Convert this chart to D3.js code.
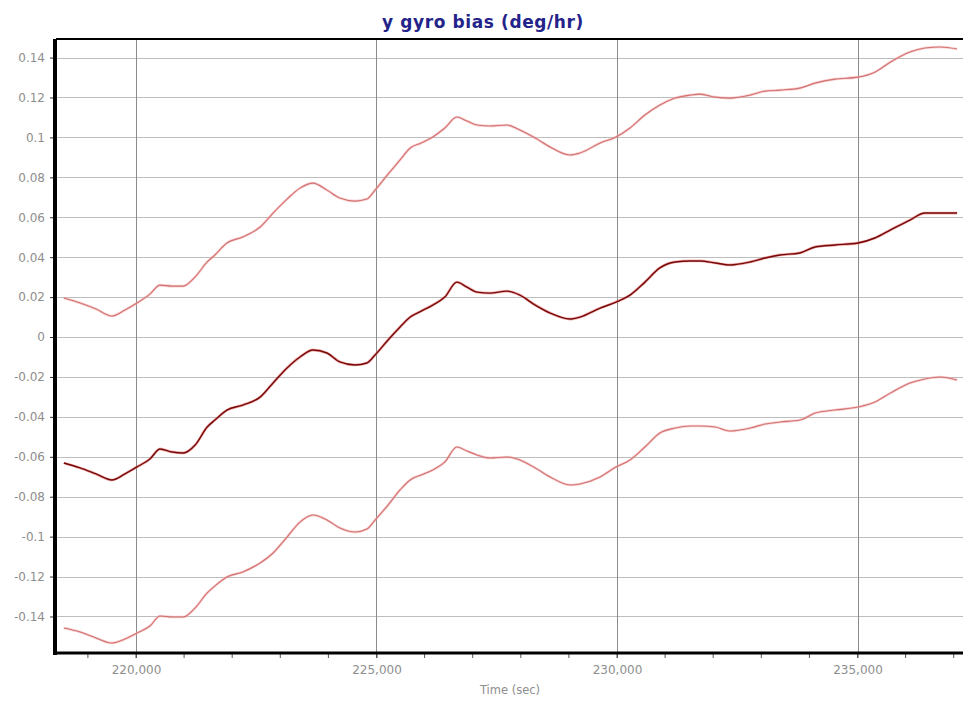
<!DOCTYPE html>
<html>
<head>
<meta charset="utf-8">
<script src="https://cdn.jsdelivr.net/npm/d3@7"></script>
<style>
  html, body { margin: 0; padding: 0; background: #fff; }
  svg { display: block; }
</style>
</head>
<body>
<svg id="chart" width="963" height="704"></svg>
<script>
// ---- data ----
const chartTitle = "y gyro bias (deg/hr)";
const xAxisTitle = "Time (sec)";

const timeSec = [218500, 218840, 219170, 219500, 219770, 220020, 220290, 220500, 220750, 220980,
  221230, 221480, 221640, 221890, 222220, 222580, 222850, 223140, 223410, 223680,
  223970, 224240, 224550, 224800, 224970, 225240, 225490, 225700, 225930, 226170,
  226420, 226670, 226880, 227090, 227360, 227710, 227980, 228300, 228610, 229020,
  229230, 229650, 229980, 230270, 230580, 230890, 231210, 231520, 231730, 232040,
  232350, 232770, 233080, 233390, 233800, 234120, 234530, 235010, 235360, 235680,
  236090, 236400, 236720, 237070];

const upperBound = [0.0195, 0.0170, 0.0140, 0.0105, 0.0135, 0.0170, 0.0215, 0.0260, 0.0255, 0.0255,
  0.0301, 0.0376, 0.0411, 0.0471, 0.0501, 0.0551, 0.0621, 0.0691, 0.0746, 0.0771,
  0.0736, 0.0696, 0.0681, 0.0691, 0.0736, 0.0816, 0.0887, 0.0947, 0.0972, 0.1002,
  0.1047, 0.1102, 0.1082, 0.1062, 0.1057, 0.1062, 0.1037, 0.0997, 0.0952, 0.0912,
  0.0922, 0.0972, 0.1002, 0.1047, 0.1112, 0.1162, 0.1197, 0.1212, 0.1217, 0.1202,
  0.1197, 0.1212, 0.1232, 0.1237, 0.1247, 0.1272, 0.1292, 0.1302, 0.1327, 0.1377,
  0.1428, 0.1448, 0.1453, 0.1443];

const biasEstimate = [-0.0631, -0.0656, -0.0686, -0.0716, -0.0686, -0.0651, -0.0611, -0.0561, -0.0576, -0.0581,
  -0.0541, -0.0451, -0.0416, -0.0366, -0.0341, -0.0301, -0.0230, -0.0155, -0.0100, -0.0065,
  -0.0080, -0.0125, -0.0140, -0.0130, -0.0090, -0.0015, 0.0050, 0.0100, 0.0130, 0.0160,
  0.0200, 0.0275, 0.0250, 0.0225, 0.0220, 0.0230, 0.0210, 0.0160, 0.0120, 0.0090,
  0.0100, 0.0145, 0.0175, 0.0210, 0.0275, 0.0346, 0.0376, 0.0381, 0.0381, 0.0371,
  0.0361, 0.0376, 0.0396, 0.0411, 0.0421, 0.0451, 0.0461, 0.0471, 0.0496, 0.0536,
  0.0586, 0.0621, 0.0621, 0.0621];

const lowerBound = [-0.1458, -0.1478, -0.1508, -0.1533, -0.1513, -0.1483, -0.1448, -0.1398, -0.1403, -0.1403,
  -0.1357, -0.1282, -0.1247, -0.1202, -0.1177, -0.1132, -0.1082, -0.1002, -0.0927, -0.0892,
  -0.0917, -0.0957, -0.0977, -0.0962, -0.0917, -0.0842, -0.0766, -0.0716, -0.0691, -0.0666,
  -0.0626, -0.0551, -0.0571, -0.0591, -0.0606, -0.0601, -0.0616, -0.0656, -0.0701, -0.0741,
  -0.0736, -0.0701, -0.0651, -0.0616, -0.0551, -0.0481, -0.0456, -0.0446, -0.0446, -0.0451,
  -0.0471, -0.0456, -0.0436, -0.0426, -0.0416, -0.0381, -0.0366, -0.0351, -0.0326, -0.0281,
  -0.0230, -0.0210, -0.0200, -0.0215];

const xTickValues = [220000, 225000, 230000, 235000];
const yTickValues = [-0.14, -0.12, -0.1, -0.08, -0.06, -0.04, -0.02, 0, 0.02, 0.04, 0.06, 0.08, 0.1, 0.12, 0.14];

// ---- layout ----
const plot = { left: 56, top: 39, right: 963, bottom: 653 };

const svg = d3.select("#chart");

const x = d3.scaleLinear().domain([218337, 237193]).range([plot.left, plot.right]);
const y = d3.scaleLinear().domain([-0.1583, 0.1493]).range([plot.bottom, plot.top]);

svg.append("defs").append("clipPath").attr("id", "clip")
  .append("rect").attr("x", plot.left).attr("y", plot.top)
  .attr("width", plot.right - plot.left).attr("height", plot.bottom - plot.top);

// horizontal grid
svg.append("g").selectAll("line").data(yTickValues).join("line")
  .attr("x1", plot.left).attr("x2", plot.right)
  .attr("y1", d => Math.round(y(d)) + 0.5).attr("y2", d => Math.round(y(d)) + 0.5)
  .attr("stroke", "#bdbdbd").attr("stroke-width", 1.2);

// vertical grid
svg.append("g").selectAll("line").data(xTickValues).join("line")
  .attr("x1", d => Math.round(x(d)) + 0.5).attr("x2", d => Math.round(x(d)) + 0.5)
  .attr("y1", plot.top).attr("y2", plot.bottom)
  .attr("stroke", "#8c8c8c").attr("stroke-width", 1);

// series
const lineGen = d3.line()
  .x((d, i) => x(timeSec[i]))
  .y(d => y(d))
  .curve(d3.curveMonotoneX);

const g = svg.append("g").attr("clip-path", "url(#clip)");
function drawSeries(values, haloColor, haloW, coreColor, coreW) {
  g.append("path").datum(values).attr("d", lineGen)
    .attr("fill", "none").attr("stroke", haloColor).attr("stroke-width", haloW).attr("opacity", 0.55);
  g.append("path").datum(values).attr("d", lineGen)
    .attr("fill", "none").attr("stroke", coreColor).attr("stroke-width", coreW);
}
drawSeries(upperBound, "#f4a8a8", 2.6, "#d27272", 1.1);
drawSeries(lowerBound, "#f4a8a8", 2.6, "#d27272", 1.1);
drawSeries(biasEstimate, "#e46a6a", 2.8, "#760808", 1.4);

// top border
svg.append("line").attr("x1", plot.left).attr("x2", plot.right)
  .attr("y1", plot.top).attr("y2", plot.top)
  .attr("stroke", "#000").attr("stroke-width", 2);

// y axis
const yMinor = d3.range(-0.158, 0.1495, 0.002);
const yAxis = d3.axisLeft(y)
  .tickValues(yTickValues)
  .tickSize(6)
  .tickFormat(d => String(+d.toFixed(2)));
const yG = svg.append("g").attr("transform", `translate(${plot.left},0)`).call(yAxis);
yG.select(".domain").remove();
yG.selectAll(".tick line").attr("stroke", "#333").attr("stroke-width", 1);
yG.selectAll(".tick text")
  .attr("x", -11)
  .attr("fill", "#8e8e8e")
  .style("font-family", "'DejaVu Sans', Verdana, sans-serif")
  .style("font-size", "12px");
svg.append("g").selectAll("line").data(yMinor).join("line")
  .attr("x1", plot.left - 3).attr("x2", plot.left)
  .attr("y1", d => y(d)).attr("y2", d => y(d))
  .attr("stroke", "#444").attr("stroke-width", 1);
svg.append("line").attr("x1", plot.left - 1).attr("x2", plot.left - 1)
  .attr("y1", plot.top).attr("y2", plot.bottom + 2)
  .attr("stroke", "#000").attr("stroke-width", 4);

// x axis
const xMinor = d3.range(219000, 237001, 1000);
svg.append("g").selectAll("line").data(xMinor).join("line")
  .attr("x1", d => x(d)).attr("x2", d => x(d))
  .attr("y1", plot.bottom).attr("y2", plot.bottom + 5)
  .attr("stroke", "#555").attr("stroke-width", 1);
const xAxis = d3.axisBottom(x).tickValues(xTickValues).tickSize(5).tickFormat(d3.format(","));
const xG = svg.append("g").attr("transform", `translate(0,${plot.bottom})`).call(xAxis);
xG.select(".domain").remove();
xG.selectAll(".tick line").attr("stroke", "#555");
xG.selectAll(".tick text")
  .attr("y", 12)
  .attr("fill", "#8e8e8e")
  .style("font-family", "'DejaVu Sans', Verdana, sans-serif")
  .style("font-size", "12px");
svg.append("line").attr("x1", plot.left - 3).attr("x2", plot.right)
  .attr("y1", plot.bottom).attr("y2", plot.bottom)
  .attr("stroke", "#000").attr("stroke-width", 3);

// axis title
svg.append("text")
  .attr("x", 510).attr("y", 694)
  .attr("text-anchor", "middle")
  .attr("fill", "#8e8e8e")
  .style("font-family", "'DejaVu Sans', Verdana, sans-serif")
  .style("font-size", "11.5px")
  .text(xAxisTitle);

// chart title
svg.append("text")
  .attr("x", 483).attr("y", 28)
  .attr("text-anchor", "middle")
  .attr("fill", "#23238a")
  .style("font-family", "'DejaVu Sans', Verdana, sans-serif")
  .style("font-weight", "bold")
  .style("font-size", "17px")
  .style("letter-spacing", "0.6px")
  .text(chartTitle);
</script>
</body>
</html>
